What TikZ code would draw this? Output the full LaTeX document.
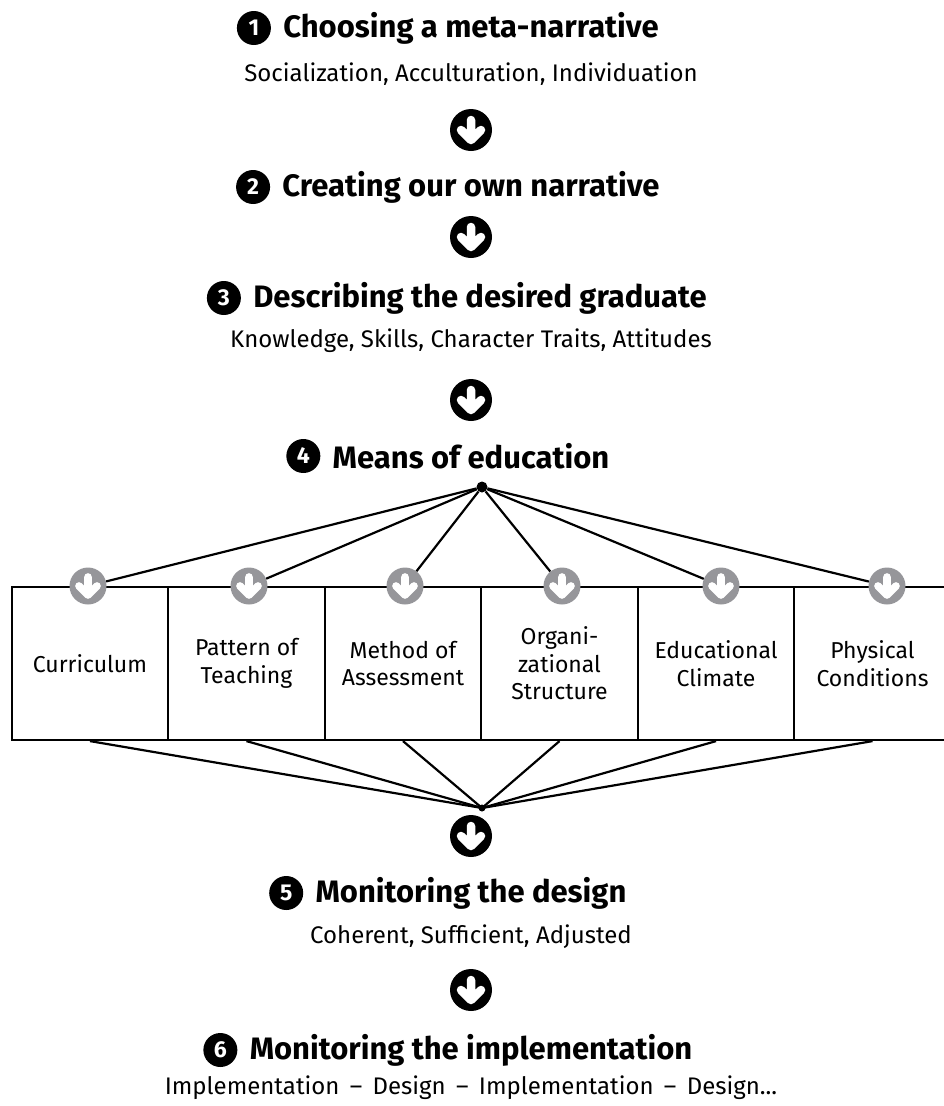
\documentclass[tikz,border=0pt]{standalone}
\usepackage{fontspec}
\setmainfont{Fira Sans}
\usetikzlibrary{positioning}
\definecolor{icongray}{RGB}{150,150,154}

\tikzset{
  heading/.style={font=\fontsize{31}{36}\selectfont\bfseries, inner sep=0pt},
  subline/.style={font=\fontsize{24}{28}\selectfont, inner sep=0pt},
  numdot/.style={circle, fill=black, text=white, minimum size=34pt, inner sep=0pt,
    font=\fontsize{23}{23}\selectfont\bfseries},
  flowarrow/.style={circle, fill=black, minimum size=42pt, inner sep=0pt},
  subarrow/.style={circle, fill=icongray, minimum size=37pt, inner sep=0pt},
  meansbox/.style={draw, line width=2.2pt, minimum width=156.5pt, minimum height=153pt,
    inner sep=0pt, align=center, font=\fontsize{23}{27.5}\selectfont},
  spoke/.style={line width=2.2pt},
  pics/downmark/.style={code={
    \draw[white, line width=#1*8.5, line cap=round, line join=round]
      (0,-10*#1) -- (0,10*#1) (-10*#1,0) -- (0,10*#1) -- (10*#1,0);
  }},
}

\begin{document}
\begin{tikzpicture}[x=1pt, y=-1pt]
 \useasboundingbox (0,0) rectangle (943,1106);

 % steps 1 to 3
 \node[heading] (t1) at (471,28) {Choosing a meta-narrative};
 \node[numdot, left=12pt of t1] (n1) {1};
 \node[subline] (s1) at (471,74) {Socialization, Acculturation, Individuation};
 \node[flowarrow] (a1) at (471,130) {};
 \pic at (a1) {downmark=1};

 \node[heading] (t2) at (471,187) {Creating our own narrative};
 \node[numdot, left=12pt of t2] (n2) {2};
 \node[flowarrow] (a2) at (471,237) {};
 \pic at (a2) {downmark=1};

 \node[heading] (t3) at (480,298) {Describing the desired graduate};
 \node[numdot, left=12pt of t3] (n3) {3};
 \node[subline] (s3) at (471,341) {Knowledge, Skills, Character Traits, Attitudes};
 \node[flowarrow] (a3) at (471,400) {};
 \pic at (a3) {downmark=1};

 % step 4 and the means
 \node[heading] (t4) at (471,456) {Means of education};
 \node[numdot, left=12pt of t4] (n4) {4};
 \node[circle, fill=black, minimum size=11pt, inner sep=0pt] (hub) at (482,487) {};

 \foreach \txt [count=\i] in {{Curriculum}, {Pattern of\\Teaching}, {Method of\\Assessment},
   {Organi-\\zational\\Structure}, {Educational\\Climate}, {Physical\\Conditions}}
   \node[meansbox] (box\i) at (90+156.5*\i-156.5,663.5) {\txt};

 \foreach \x [count=\i] in {88,249,405,562,721,887} {
   \node[subarrow] (g\i) at (\x,586) {};
   \pic at (g\i) {downmark=0.9};
   \draw[spoke] (hub) -- (g\i);
 }

 \node[circle, fill=black, minimum size=7pt, inner sep=0pt] (foot) at (482,808) {};
 \foreach \i in {1,...,6}
   \draw[spoke] (box\i.south) -- (foot.center);

 % steps 5 and 6
 \node[flowarrow] (a4) at (471,836) {};
 \pic at (a4) {downmark=1};
 \node[heading] (t5) at (471,893) {Monitoring the design};
 \node[numdot, left=12pt of t5] (n5) {5};
 \node[subline] (s5) at (471,937) {Coherent, Sufficient, Adjusted};
 \node[flowarrow] (a5) at (471,990) {};
 \pic at (a5) {downmark=1};

 \node[heading] (t6) at (471,1050) {Monitoring the implementation};
 \node[numdot, left=12pt of t6] (n6) {6};
 \node[subline] (s6) at (471,1088) {Implementation \,--\, Design \,--\, Implementation \,--\, Design...};

\end{tikzpicture}
\end{document}
